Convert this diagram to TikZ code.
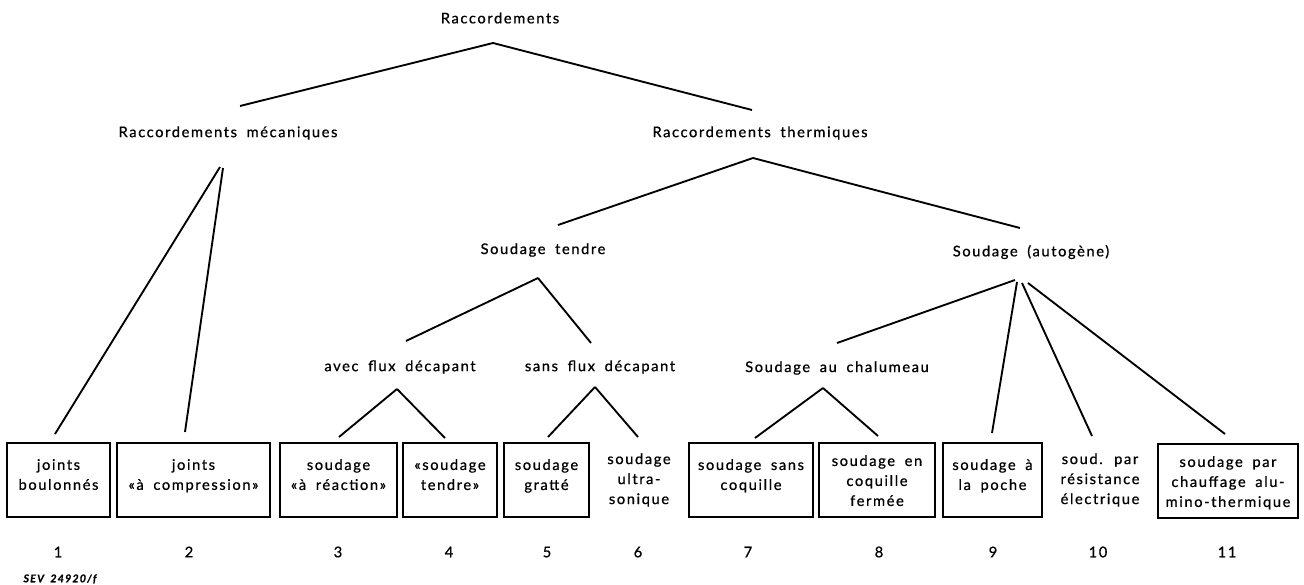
\documentclass[tikz,border=0pt]{standalone}
\usepackage{fontspec}
\setmainfont{Lato}[LetterSpace=11, WordSpace=1.8, FakeBold=0.8]
\tikzset{
  lbl/.style={inner sep=0pt, align=center, font=\fontsize{11}{15}\selectfont},
  leaf/.style={draw, line width=1.7pt, minimum height=55.5pt, inner sep=0pt},
  leaftext/.style={lbl, anchor=north},
  branch/.style={line width=1.4pt}
}
\begin{document}
\begin{tikzpicture}[x=0.75pt, y=-0.75pt]
      \useasboundingbox (0,0) rectangle (1304,585);
      % upper levels
      \draw
        (500,18) node[lbl] (rac){Raccordements}
        (228,133) node[lbl] (meca){Raccordements mécaniques}
        (760,133) node[lbl] (therm){Raccordements thermiques}
        (543,250) node[lbl] (tendre){Soudage tendre}
        (1031,252) node[lbl] (auto){Soudage (autogène)}
        (400,367) node[lbl] (avec){avec flux décapant}
        (600,367) node[lbl] (sans){sans flux décapant}
        (837,368) node[lbl] (chal){Soudage au chalumeau};
      % leaves
      \draw
        (58.5,480) node[leaf, minimum width=77.25pt] (b1){}
        (193.5,480) node[leaf, minimum width=114.75pt] (b2){}
        (338.5,480) node[leaf, minimum width=87.75pt] (b3){}
        (450,480) node[leaf, minimum width=70.5pt] (b4){}
        (546.5,480) node[leaf, minimum width=63.75pt] (b5){}
        (751,480) node[leaf, minimum width=93pt] (b7){}
        (877,480) node[leaf, minimum width=87pt] (b8){}
        (992.5,480) node[leaf, minimum width=74.25pt] (b9){}
        (1228,481) node[leaf, minimum width=105pt] (b11){};
      \path
        (b1.north) ++(0,17) node[leaftext] (t1){joints\\boulonnés}
        (b2.north) ++(0,17) node[leaftext] (t2){joints\\«à compression»}
        (b3.north) ++(0,17) node[leaftext] (t3){soudage\\«à réaction»}
        (b4.north) ++(0,17) node[leaftext] (t4){«soudage\\tendre»}
        (b5.north) ++(0,17) node[leaftext] (t5){soudage\\gratté}
        (639,453) node[leaftext] (t6){soudage\\ultra-\\sonique}
        (b7.north) ++(0,17) node[leaftext] (t7){soudage sans\\coquille}
        (b8.north) ++(0,13) node[leaftext] (t8){soudage en\\coquille\\fermée}
        (b9.north) ++(0,17) node[leaftext] (t9){soudage à\\la poche}
        (1100,453) node[leaftext] (t10){soud. par\\résistance\\électrique}
        (b11.north) ++(0,13) node[leaftext] (t11){soudage par\\chauffage alu-\\mino-thermique};
      % numbers
      \foreach \x/\n in {58/1,189/2,338/3,449/4,547/5,638/6,748/7,879/8,993/9,1098/10,1227/11}
        \node[lbl] (n\n) at (\x,552) {\n};
      \node[inner sep=0pt, font=\fontsize{8}{9}\selectfont\bfseries\itshape] (sev) at (60,579) {SEV 24920/f};
      % connector ends
      \path
        (493,43) coordinate (rac-s)
        (240,106) coordinate (meca-n)
        (752,110) coordinate (therm-n)
        (220,167) coordinate (meca-s1)
        (223,168) coordinate (meca-s2)
        (55,434) coordinate (b1-n)
        (185,432) coordinate (b2-n)
        (753,158) coordinate (therm-s)
        (558,225) coordinate (tendre-n)
        (1020,228) coordinate (auto-n)
        (538,278) coordinate (tendre-s)
        (406,341) coordinate (avec-n)
        (591,343) coordinate (sans-n)
        (1015,280) coordinate (auto-s1)
        (1017,282) coordinate (auto-s2)
        (1022,283) coordinate (auto-s3)
        (1028,283) coordinate (auto-s4)
        (837,343) coordinate (chal-n)
        (992,433) coordinate (b9-n)
        (1092,436) coordinate (t10-n)
        (1225,434) coordinate (b11-n)
        (397,389) coordinate (avec-s)
        (339,437) coordinate (b3-n)
        (445,438) coordinate (b4-n)
        (595,387) coordinate (sans-s)
        (548,437) coordinate (b5-n)
        (638,437) coordinate (t6-n)
        (823,388) coordinate (chal-s)
        (755,438) coordinate (b7-n)
        (878,436) coordinate (b8-n);
      \begin{scope}[branch]
        \draw (rac-s) to (meca-n);
        \draw (rac-s) to (therm-n);
        \draw (meca-s1) to (b1-n);
        \draw (meca-s2) to (b2-n);
        \draw (therm-s) to (tendre-n);
        \draw (therm-s) to (auto-n);
        \draw (tendre-s) to (avec-n);
        \draw (tendre-s) to (sans-n);
        \draw (auto-s1) to (chal-n);
        \draw (auto-s2) to (b9-n);
        \draw (auto-s3) to (t10-n);
        \draw (auto-s4) to (b11-n);
        \draw (avec-s) to (b3-n);
        \draw (avec-s) to (b4-n);
        \draw (sans-s) to (b5-n);
        \draw (sans-s) to (t6-n);
        \draw (chal-s) to (b7-n);
        \draw (chal-s) to (b8-n);
      \end{scope}
    \end{tikzpicture}
\end{document}
